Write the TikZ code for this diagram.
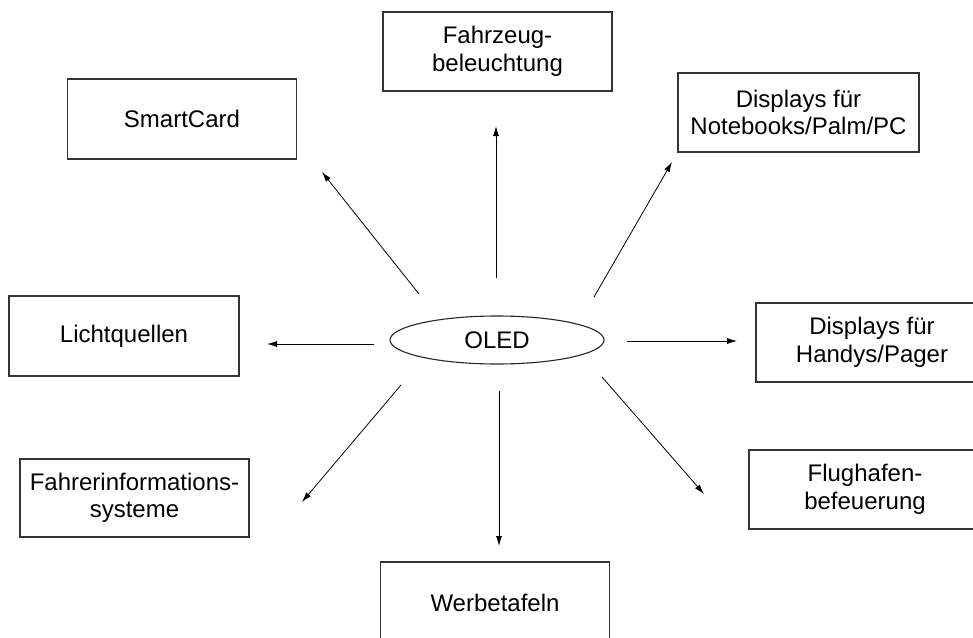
\documentclass[tikz,border=0pt]{standalone}
\usepackage{fontspec}
\setmainfont{Liberation Sans}
\usetikzlibrary{arrows.meta,shapes.geometric}
\tikzset{appbox/.style={rectangle,draw=black!80,line width=1.3pt,align=center,inner sep=0pt,
    font=\fontsize{24}{27.5}\selectfont},
  core/.style={ellipse,draw=black!85,line width=1.1pt,minimum width=214pt,minimum height=48pt,
    inner sep=0pt,font=\fontsize{24}{27.5}\selectfont},
  ray/.style={line width=0.8pt,-{Latex[length=10pt,width=6pt]}}}

\begin{document}
\begin{tikzpicture}[x=1pt,y=-1pt]
      \useasboundingbox (0,0) rectangle (973,637);

      \node[core] (O) at (497,340) {OLED};

      \node[appbox,minimum width=229pt,minimum height=79pt] (F) at (497.5,51.5) {Fahrzeug-\\beleuchtung};
      \node[appbox,minimum width=229pt,minimum height=80pt] (S) at (182,119) {SmartCard};
      \node[appbox,minimum width=241pt,minimum height=79pt] (N) at (798.5,112.5) {Displays für\\Notebooks/Palm/PC};
      \node[appbox,minimum width=230pt,minimum height=80pt] (L) at (124,336) {Lichtquellen};
      \node[appbox,minimum width=232pt,minimum height=79pt] (H) at (872,342.5) {Displays für\\Handys/Pager};
      \node[appbox,minimum width=229pt,minimum height=78pt] (I) at (134.5,498) {Fahrerinformations-\\systeme};
      \node[appbox,minimum width=232pt,minimum height=79pt] (A) at (865,489.5) {Flughafen-\\befeuerung};
      \node[appbox,minimum width=229pt,minimum height=82pt] (W) at (495,603) {Werbetafeln};

      % free arrow ends round the ellipse
      \coordinate (f0) at (496,278);  \coordinate (f1) at (496,126);
      \coordinate (s0) at (419,294);  \coordinate (s1) at (322,172);
      \coordinate (n0) at (594,297);  \coordinate (n1) at (672,162);
      \coordinate (l0) at (374,344);  \coordinate (l1) at (267,344);
      \coordinate (h0) at (627,341);  \coordinate (h1) at (737,341);
      \coordinate (i0) at (401,385);  \coordinate (i1) at (302,502);
      \coordinate (w0) at (499,391);  \coordinate (w1) at (499,546);
      \coordinate (a0) at (602,377);  \coordinate (a1) at (704,494);

      \draw[ray] (f0) -- (f1);
      \draw[ray] (s0) -- (s1);
      \draw[ray] (n0) -- (n1);
      \draw[ray] (l0) -- (l1);
      \draw[ray] (h0) -- (h1);
      \draw[ray] (i0) -- (i1);
      \draw[ray] (w0) -- (w1);
      \draw[ray] (a0) -- (a1);
    \end{tikzpicture}
\end{document}
